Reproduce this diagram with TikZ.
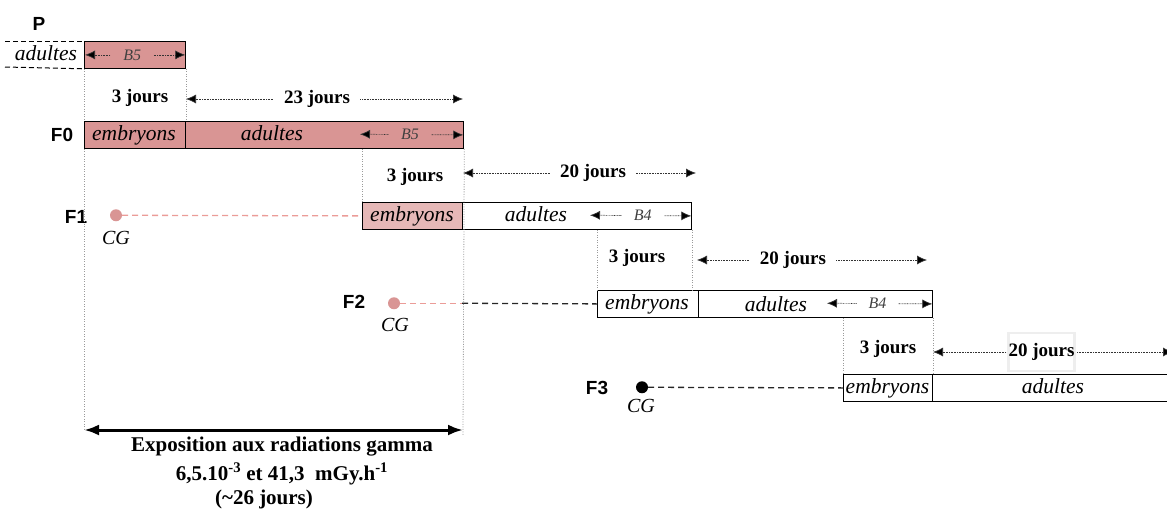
\documentclass[tikz,border=0pt]{standalone}
\usepackage{fontspec}
\setmainfont{Liberation Serif}
\newfontfamily\gensans{Liberation Sans}
\usetikzlibrary{arrows.meta,calc}
\definecolor{pinkA}{HTML}{D99594}
\definecolor{pinkB}{HTML}{E6B8B7}
\definecolor{pinkLine}{HTML}{EB9C98}
\definecolor{guideGray}{HTML}{9A9A9A}
\definecolor{bcol}{HTML}{404040}
\definecolor{boxGray}{HTML}{EEEEEE}
\begin{document}
\begin{tikzpicture}[x=1pt,y=-1pt,
  stagebox/.style={draw=black, line width=1.3pt, inner sep=0pt, minimum height=26.5pt, anchor=north west},
  lifelab/.style={font=\fontsize{21.5}{21.5}\selectfont\itshape, inner sep=0pt, anchor=base},
  genlab/.style={font=\gensans\fontsize{19}{19}\selectfont\bfseries, inner sep=0pt},
  dayslab/.style={font=\fontsize{19}{19}\selectfont\bfseries, inner sep=0pt},
  blab/.style={font=\fontsize{16}{16}\selectfont\itshape, text=bcol, inner xsep=12pt, inner ysep=1pt},
  cglab/.style={font=\fontsize{20}{20}\selectfont\itshape, inner sep=0pt},
  exlab/.style={font=\fontsize{21}{21}\selectfont\bfseries, inner sep=0pt},
  guide/.style={draw=guideGray, line width=0.8pt, dash pattern=on 1pt off 1.5pt},
  tipd/.tip={Latex[length=10pt,width=9pt,fill=black]},
  dayarrow/.style={draw=black!80, line width=0.7pt, dash pattern=on 0.8pt off 0.8pt, tipd-tipd},
  exarrow/.style={draw=black, line width=3pt, {Latex[length=15pt,width=11pt]}-{Latex[length=15pt,width=11pt]}},
  pdash/.style={draw=black, line width=1pt, dash pattern=on 5pt off 3pt},
  pinkdash/.style={draw=pinkLine, line width=1.3pt, dash pattern=on 6pt off 4pt},
  blackdash/.style={draw=black!85, line width=1.3pt, dash pattern=on 6pt off 4pt},
  cgdot/.style={circle, minimum size=12pt, inner sep=0pt, draw=none}
]
\useasboundingbox (0,0) rectangle (1167,509);

% ---------- P ----------
\node[genlab] (gP) at (39,24) {P};
\node[stagebox, fill=pinkA, minimum width=101pt] (pbox) at (84,41) {};
\node[lifelab] (pad) at (46,60) {adultes};
\coordinate (pdt) at (5,41);
\coordinate (pdb) at (5,67);
\draw[pdash] (pdt) -- (pbox.north west);
\draw[pdash] (pdb) -- (pbox.south west);
\draw[dayarrow] ([xshift=1pt]pbox.west) -- ([xshift=-1pt]pbox.east)
  node[pos=0.47, blab, fill=pinkA] (pb5) {B5};

% ---------- day row a ----------
\node[dayslab] (d3a) at (140,98) {3 jours};
\coordinate (aL) at (186,99);
\coordinate (aR) at (463,99);
\draw[dayarrow] (aL) -- (aR) node[pos=0.473, dayslab, fill=white, inner xsep=10pt] (d23) {23 jours};

% ---------- F0 ----------
\node[genlab] (gF0) at (62,135) {F0};
\node[stagebox, fill=pinkA, minimum width=101pt] (f0e) at (84,121) {};
\node[stagebox, fill=pinkA, minimum width=278pt] (f0a) at (185,121) {};
\node[lifelab] (f0et) at (134,140) {embryons};
\node[lifelab] (f0at) at (272,140) {adultes};
\coordinate (f0bl) at (360,134.25);
\draw[dayarrow] (f0bl) -- ([xshift=-1pt]f0a.east) node[pos=0.485, blab, fill=pinkA] (f0b5) {B5};

% ---------- day row b ----------
\node[dayslab] (d3b) at (415,177) {3 jours};
\coordinate (bL) at (463,173);
\coordinate (bR) at (696,173);
\draw[dayarrow] (bL) -- (bR) node[pos=0.558, dayslab, fill=white, inner xsep=10pt] (d20b) {20 jours};

% ---------- F1 ----------
\node[genlab] (gF1) at (76,217) {F1};
\node[cgdot, fill=pinkA] (cg1) at (116,215.25) {};
\node[cglab] (cg1t) at (116,238) {CG};
\node[stagebox, fill=pinkB, minimum width=100pt] (f1e) at (362,202) {};
\node[stagebox, minimum width=229pt] (f1a) at (462,202) {};
\node[lifelab] (f1et) at (412,221) {embryons};
\node[lifelab] (f1at) at (536,221) {adultes};
\coordinate (f1bl) at (590,215.25);
\draw[dayarrow] (f1bl) -- ([xshift=-1pt]f1a.east) node[pos=0.52, blab, fill=white] (f1b4) {B4};
\draw[pinkdash] (cg1) -- (f1e.west);

% ---------- day row c ----------
\node[dayslab] (d3c) at (637,258) {3 jours};
\coordinate (cL) at (697,260);
\coordinate (cR) at (927,260);
\draw[dayarrow] (cL) -- (cR) node[pos=0.417, dayslab, fill=white, inner xsep=10pt] (d20c) {20 jours};

% ---------- F2 ----------
\node[genlab] (gF2) at (354,302) {F2};
\node[cgdot, fill=pinkA] (cg2) at (394,303.25) {};
\node[cglab] (cg2t) at (395,325) {CG};
\node[stagebox, minimum width=101pt] (f2e) at (597,290) {};
\node[stagebox, minimum width=234pt] (f2a) at (698,290) {};
\node[lifelab] (f2et) at (647,309) {embryons};
\node[lifelab] (f2at) at (776,311) {adultes};
\coordinate (f2bl) at (827,303.25);
\draw[dayarrow] (f2bl) -- ([xshift=-1pt]f2a.east) node[pos=0.48, blab, fill=white] (f2b4) {B4};
\coordinate (j2) at (462,303.25);
\draw[pinkdash] (cg2) -- (j2);
\draw[blackdash] (j2) -- (f2e.west);

% ---------- day row d ----------
\node[dayslab] (d3d) at (888,349) {3 jours};
\coordinate (dL) at (933,352);
\coordinate (dR) at (1173,352);
\draw[dayarrow] (dL) -- (dR) node[pos=0.452, dayslab, fill=white, draw=boxGray, solid, line width=2.5pt, minimum width=65pt, minimum height=38pt] (d20d) {20 jours};

% ---------- F3 ----------
\node[genlab] (gF3) at (597,388) {F3};
\node[cgdot, fill=black] (cg3) at (642,387.25) {};
\node[cglab] (cg3t) at (641,406) {CG};
\node[stagebox, minimum width=89pt] (f3e) at (843,374) {};
\node[stagebox, minimum width=240pt] (f3a) at (932,374) {};
\node[lifelab] (f3et) at (887.5,393) {embryons};
\node[lifelab] (f3at) at (1053,393) {adultes};
\draw[blackdash] (cg3) -- (f3e.west);

% ---------- guides ----------
\coordinate (ex0) at (84,430);
\coordinate (ex1) at (463,430);
\coordinate (exg) at (463,435);
\draw[guide] (pbox.south west) -- (f0e.north west);
\draw[guide] (pbox.south east) -- (f0e.north east);
\draw[guide] (f0e.south west) -- (ex0);
\draw[guide] (f0a.south east) -- (exg);
\draw[guide] (f1e.north west |- f0a.south) -- (f1e.north west);
\draw[guide] (f2e.north west |- f1a.south) -- (f2e.north west);
\draw[guide] (f1a.south east) -- (f1a.south east |- f2e.north);
\draw[guide] (f3e.north west |- f2a.south) -- (f3e.north west);
\draw[guide] (f2a.south east) -- (f3e.north east);

% ---------- exposition ----------
\draw[exarrow] (ex0) -- (ex1);
\node[exlab] (e1) at (282,447) {Exposition aux radiations gamma};
\node[exlab] (e2) at (282,474) {6,5.10\textsuperscript{-3} et 41,3~~mGy.h\textsuperscript{-1}};
\node[exlab] (e3) at (264,499) {(\textasciitilde26 jours)};
\end{tikzpicture}
\end{document}
